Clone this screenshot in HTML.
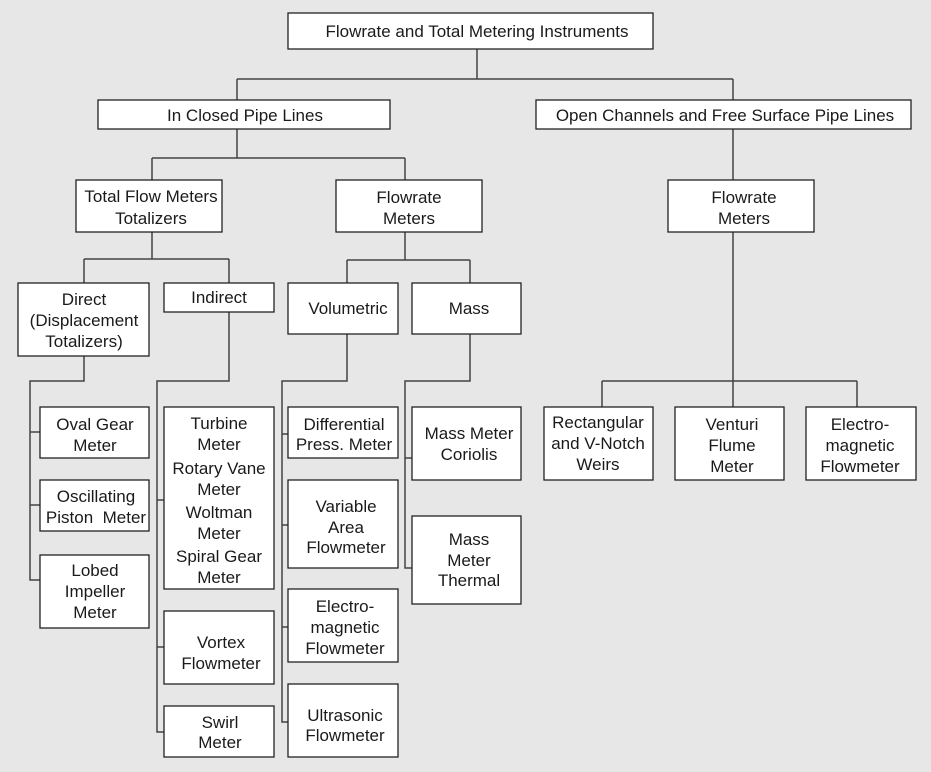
<!DOCTYPE html>
<html><head><meta charset="utf-8"><style>
body{margin:0;background:#e7e7e7;}
svg{display:block}
text{font-family:"Liberation Sans",sans-serif;font-size:17px;fill:#1a1a1a;text-anchor:middle;white-space:pre}
rect{fill:#fff;stroke:#222;stroke-width:1.3}
path{fill:none;stroke:#444;stroke-width:1.5}
</style></head><body>
<svg width="931" height="772" viewBox="0 0 931 772">
<rect x="0" y="0" width="931" height="772" style="fill:#e7e7e7;stroke:none"/>
<path d="M477 49V79M237 79H733M237 79V100M733 79V100"/>
<path d="M237 129V158M152 158H405M152 158V180M405 158V180"/>
<path d="M733 129V180M733 232V407M602 381H857M602 381V407M857 381V407"/>
<path d="M152 232V259M84 259H229M84 259V283M229 259V283"/>
<path d="M405 232V260M347 260H470M347 260V283M470 260V283"/>
<path d="M84 356V381H30V580H40M30 432H40M30 505H40"/>
<path d="M229 312V381H157V732H164M157 500H164M157 647H164"/>
<path d="M347 334V381H282V722H288M282 434H288M282 525H288M282 627H288"/>
<path d="M470 334V381H405V568H412M405 458H412"/>
<rect x="288" y="13" width="365" height="36"/>
<text x="477" y="37">Flowrate and Total Metering Instruments</text>
<rect x="98" y="100" width="292" height="29"/>
<text x="245" y="121">In Closed Pipe Lines</text>
<rect x="536" y="100" width="375" height="29"/>
<text x="725" y="121">Open Channels and Free Surface Pipe Lines</text>
<rect x="76" y="180" width="146" height="52"/>
<text x="151" y="202">Total Flow Meters</text><text x="151" y="224">Totalizers</text>
<rect x="336" y="180" width="146" height="52"/>
<text x="409" y="203">Flowrate</text><text x="409" y="224">Meters</text>
<rect x="668" y="180" width="146" height="52"/>
<text x="744" y="203">Flowrate</text><text x="744" y="224">Meters</text>
<rect x="18" y="283" width="131" height="73"/>
<text x="84" y="305">Direct</text><text x="84" y="326">(Displacement</text><text x="84" y="347">Totalizers)</text>
<rect x="164" y="283" width="110" height="29"/>
<text x="219" y="303">Indirect</text>
<rect x="288" y="283" width="110" height="51"/>
<text x="348" y="314">Volumetric</text>
<rect x="412" y="283" width="109" height="51"/>
<text x="469" y="314">Mass</text>
<rect x="40" y="407" width="109" height="51"/>
<text x="95" y="430">Oval Gear</text><text x="95" y="451">Meter</text>
<rect x="40" y="480" width="109" height="51"/>
<text x="96" y="502">Oscillating</text><text x="96" y="523">Piston  Meter</text>
<rect x="40" y="555" width="109" height="73"/>
<text x="95" y="576">Lobed</text><text x="95" y="597">Impeller</text><text x="95" y="618">Meter</text>
<rect x="164" y="407" width="110" height="182"/>
<text x="219" y="429">Turbine</text><text x="219" y="450">Meter</text><text x="219" y="474">Rotary Vane</text><text x="219" y="495">Meter</text><text x="219" y="518">Woltman</text><text x="219" y="539">Meter</text><text x="219" y="562">Spiral Gear</text><text x="219" y="583">Meter</text>
<rect x="164" y="611" width="110" height="73"/>
<text x="221" y="648">Vortex</text><text x="221" y="669">Flowmeter</text>
<rect x="164" y="706" width="110" height="51"/>
<text x="220" y="728">Swirl</text><text x="220" y="748">Meter</text>
<rect x="288" y="407" width="110" height="51"/>
<text x="344" y="430">Differential</text><text x="344" y="450">Press. Meter</text>
<rect x="288" y="480" width="110" height="88"/>
<text x="346" y="512">Variable</text><text x="346" y="533">Area</text><text x="346" y="553">Flowmeter</text>
<rect x="288" y="589" width="110" height="73"/>
<text x="345" y="612">Electro-</text><text x="345" y="633">magnetic</text><text x="345" y="654">Flowmeter</text>
<rect x="288" y="684" width="110" height="73"/>
<text x="345" y="721">Ultrasonic</text><text x="345" y="741">Flowmeter</text>
<rect x="412" y="407" width="109" height="73"/>
<text x="469" y="439">Mass Meter</text><text x="469" y="460">Coriolis</text>
<rect x="412" y="516" width="109" height="88"/>
<text x="469" y="545">Mass</text><text x="469" y="566">Meter</text><text x="469" y="586">Thermal</text>
<rect x="544" y="407" width="109" height="73"/>
<text x="598" y="428">Rectangular</text><text x="598" y="449">and V-Notch</text><text x="598" y="470">Weirs</text>
<rect x="675" y="407" width="109" height="73"/>
<text x="732" y="430">Venturi</text><text x="732" y="451">Flume</text><text x="732" y="472">Meter</text>
<rect x="806" y="407" width="110" height="73"/>
<text x="860" y="430">Electro-</text><text x="860" y="451">magnetic</text><text x="860" y="472">Flowmeter</text>
</svg>
</body></html>
